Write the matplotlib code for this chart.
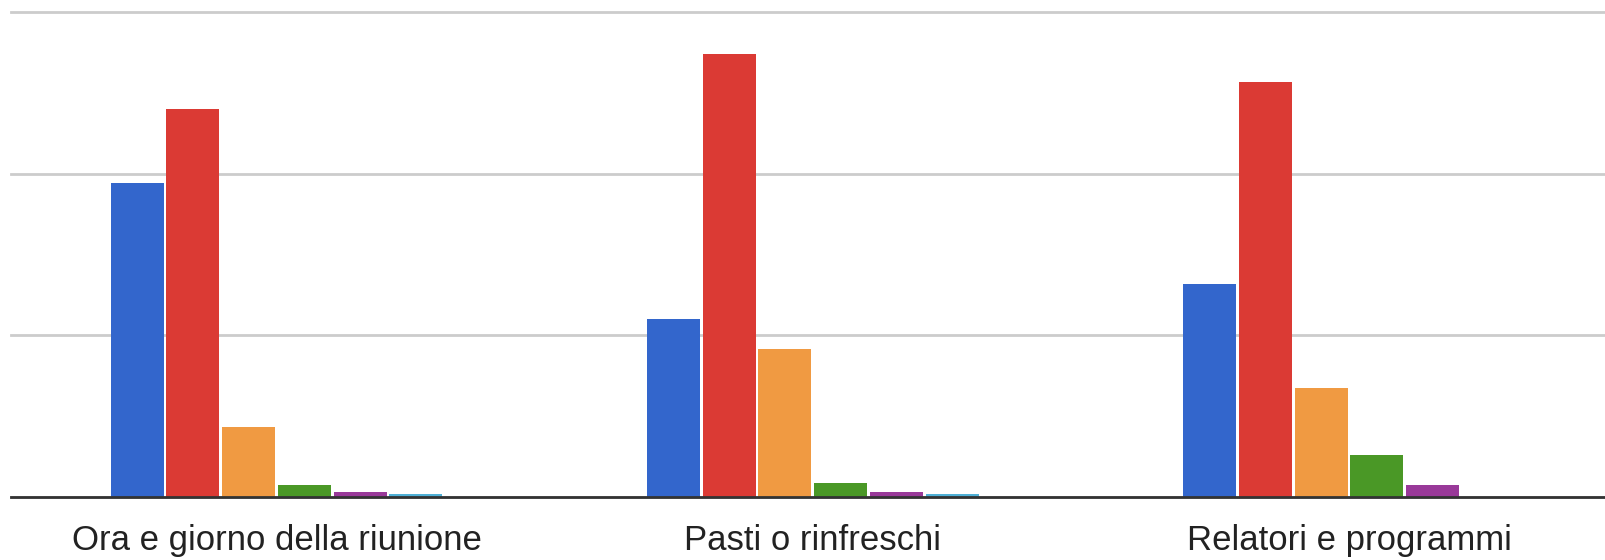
import numpy as np
import matplotlib
matplotlib.use("Agg")
from matplotlib import pyplot as plt

# categories on the x axis
categories = ["Ora e giorno della riunione", "Pasti o rinfreschi", "Relatori e programmi"]

# one list per rating level (no legend in the original)
blue_vals = [136, 77, 92]
red_vals = [168, 192, 180]
orange_vals = [30, 64, 47]
green_vals = [5, 6, 18]
purple_vals = [2, 2, 5]
teal_vals = [1, 1, 0]

series = [blue_vals, red_vals, orange_vals, green_vals, purple_vals, teal_vals]
colors = ["#3366cc", "#db3a34", "#f09a42", "#4a9826", "#993999", "#4fb0d6"]

plt.rcParams["font.family"] = ["Liberation Sans", "DejaVu Sans"]

fig = plt.figure(figsize=(16.05, 5.6), dpi=100)
# plot area starts at x=11px and runs to the right edge
ax = fig.add_axes([11 / 1605, 63.5 / 560, 1594 / 1605, 484 / 560])

x = np.arange(len(categories))
step = 0.104
width = 0.099
offsets = (np.arange(len(series)) - (len(series) - 1) / 2) * step

for vals, off, col in zip(series, offsets, colors):
    ax.bar(x + off, vals, width=width, color=col, zorder=3)

# about 536 px per group, first group centred near x=276px
x0 = -(276.5 - 11) / 536.25
ax.set_xlim(x0, x0 + 1594 / 536.25)
ax.set_ylim(0, 210)
ax.set_yticks([0, 70, 140, 210])
ax.yaxis.grid(True, color="#cccccc", linewidth=2)
for gl in ax.get_ygridlines():
    gl.set_clip_on(False)
ax.set_axisbelow(True)
ax.tick_params(axis="y", left=False, labelleft=False)
ax.set_xticks(x)
ax.set_xticklabels(categories, fontsize=25, color="#222222")
ax.tick_params(axis="x", length=0, pad=20)

for s in ["top", "right", "left"]:
    ax.spines[s].set_visible(False)
ax.spines["bottom"].set_color("#333333")
ax.spines["bottom"].set_linewidth(2)
ax.spines["bottom"].set_zorder(4)

fig.savefig("out.png", dpi=100)
